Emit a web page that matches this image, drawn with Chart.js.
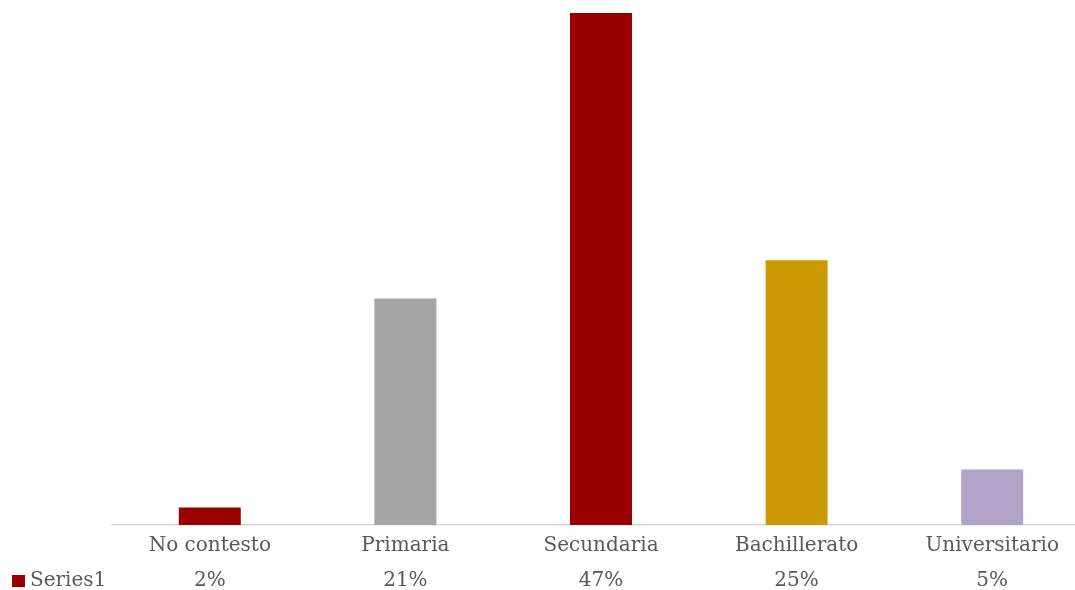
<!DOCTYPE html>
<html>
<head>
<meta charset="utf-8">
<script src="https://cdn.jsdelivr.net/npm/chart.js@4/dist/chart.umd.min.js"></script>
<style>
html,body{margin:0;padding:0;background:#fff;overflow:hidden;width:1075px;height:590px;}
#wrap{width:1090px;height:590px;}
</style>
</head>
<body>
<div id="wrap"><canvas id="c" width="1090" height="590"></canvas></div>
<script>
const categories = ["No contesto", "Primaria", "Secundaria", "Bachillerato", "Universitario"];
const values = [1.6, 20.8, 47, 24.3, 5.1];
const valueLabels = ["2%", "21%", "47%", "25%", "5%"];
const seriesName = "Series1";
const barColors = ["#990000", "#A5A5A5", "#990000", "#CC9900", "#B3A2C7"];

const FONT = "'DejaVu Serif', 'Liberation Serif', serif";
const TEXT = "#595959";
const FS = 20;
const LH = 1.75;
const PAD = -5;

const tableLegend = {
  id: 'tableLegend',
  afterDraw(chart) {
    const ctx = chart.ctx;
    const xs = chart.scales.x;
    const y = xs.top + 56;
    ctx.save();
    ctx.fillStyle = chart.data.datasets[0].backgroundColor[0];
    ctx.fillRect(12, y - 6, 13, 12);
    ctx.fillStyle = TEXT;
    ctx.font = FS + "px " + FONT;
    ctx.textBaseline = "middle";
    ctx.textAlign = "left";
    ctx.fillText(chart.data.datasets[0].label, 30, y);
    ctx.restore();
  }
};

new Chart(document.getElementById('c'), {
  type: 'bar',
  data: {
    labels: categories,
    datasets: [{
      label: seriesName,
      data: values,
      backgroundColor: barColors,
      borderWidth: 0,
      categoryPercentage: 1,
      barPercentage: 0.317
    }]
  },
  options: {
    responsive: false,
    animation: false,
    devicePixelRatio: 1,
    layout: { padding: { left: 112, right: 0, top: 13, bottom: 0 } },
    plugins: { legend: { display: false }, tooltip: { enabled: false } },
    scales: {
      x: {
        grid: { display: false },
        border: { display: true, color: '#D9D9D9', width: 1.5 },
        ticks: {
          color: TEXT,
          padding: PAD,
          maxRotation: 0,
          autoSkip: false,
          font: { family: FONT, size: FS, lineHeight: LH },
          callback: (v, i) => [categories[i], valueLabels[i]]
        },
        afterFit: (s) => { s.height = 65; }
      },
      y: { display: false, min: 0, max: 47 }
    }
  },
  plugins: [tableLegend]
});
</script>
</body>
</html>
